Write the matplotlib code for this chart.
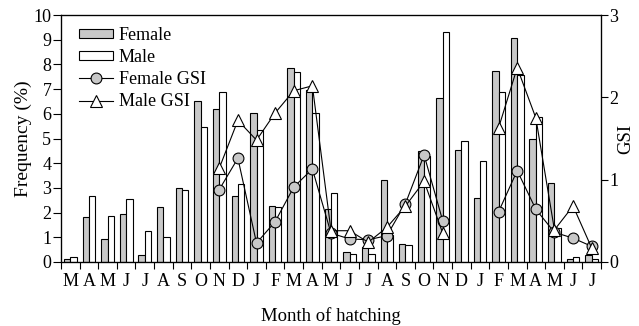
import numpy as np
import matplotlib
matplotlib.use("Agg")
import matplotlib.pyplot as plt

plt.rcParams['font.family'] = ['Liberation Serif', 'DejaVu Serif']

months = ['M', 'A', 'M', 'J', 'J', 'A', 'S', 'O', 'N', 'D', 'J', 'F', 'M', 'A', 'M',
          'J', 'J', 'A', 'S', 'O', 'N', 'D', 'J', 'F', 'M', 'A', 'M', 'J', 'J']

# частоты (%)
female = [0.12, 1.84, 0.92, 1.95, 0.28, 2.24, 2.99, 6.5, 6.2, 2.69, 6.05, 2.27, 7.85, 6.97, 2.14,
          0.42, 0.6, 3.3, 0.73, 4.5, 6.63, 4.54, 2.58, 7.72, 9.07, 4.97, 3.19, 0.11, 0.28]
male = [0.19, 2.69, 1.86, 2.55, 1.27, 1.03, 2.92, 5.48, 6.9, 3.15, 5.34, 2.22, 7.71, 6.03, 2.78,
        0.32, 0.32, 1.1, 0.67, 4.3, 9.33, 4.88, 4.1, 6.9, 7.58, 5.89, 1.37, 0.19, 0.12]

nan = np.nan
female_gsi = [nan] * 8 + [0.88, 1.26, 0.23, 0.49, 0.91, 1.13, 0.35, 0.28, 0.27, 0.32, 0.71, 1.30, 0.50,
                          nan, nan, 0.61, 1.11, 0.64, 0.36, 0.29, 0.19]
male_gsi = [nan] * 8 + [1.14, 1.72, 1.48, 1.81, 2.08, 2.14, 0.38, 0.38, 0.24, 0.42, 0.68, 0.98, 0.35,
                        nan, nan, 1.63, 2.36, 1.75, 0.39, 0.68, 0.17]

x = np.arange(len(months))
w = 0.34
fs = 13

fig = plt.figure(figsize=(6.39, 3.26), dpi=100)
ax = fig.add_axes([61 / 639, 1 - 262 / 326, 540 / 639, 247 / 326])

b1 = ax.bar(x - w / 2, female, w, color='#c8c8c8', edgecolor='black', linewidth=0.8, label='Female')
b2 = ax.bar(x + w / 2, male, w, color='white', edgecolor='black', linewidth=0.8, label='Male')

ax.set_xlim(-0.5, len(months) - 0.5)
ax.set_ylim(0, 10)
ax.set_yticks(range(0, 11))
ax.set_xticks(x)
ax.set_xticklabels(months)
ax.set_xticks(np.arange(-0.5, len(months)), minor=True)
ax.tick_params(axis='x', which='major', length=0, labelsize=fs, pad=8)
ax.tick_params(axis='x', which='minor', length=5, direction='out', width=0.8)
ax.tick_params(axis='y', length=6, direction='out', labelsize=fs, width=0.8, pad=1)
ax.set_xlabel('Month of hatching', fontsize=fs + 0.5, labelpad=12)
ax.set_ylabel('Frequency (%)', fontsize=fs + 1, labelpad=1)
for s in ax.spines.values():
    s.set_linewidth(0.9)

ax2 = ax.twinx()
l1, = ax2.plot(x, female_gsi, color='black', linewidth=0.8, marker='o', markersize=7.8,
               markerfacecolor='#c8c8c8', markeredgecolor='black', markeredgewidth=0.8, label='Female GSI')
l2, = ax2.plot(x, male_gsi, color='black', linewidth=0.8, marker='^', markersize=8.5,
               markerfacecolor='white', markeredgecolor='black', markeredgewidth=0.8, label='Male GSI')
ax2.set_ylim(0, 3)
ax2.set_yticks([0, 1, 2, 3])
ax2.tick_params(axis='y', length=5, direction='out', labelsize=fs, width=0.8, pad=1)
ax2.set_ylabel('GSI', fontsize=fs + 0.5)
ax2.yaxis.set_label_coords((617 - 61) / 540, 0.5)

ax.legend([b1, b2, l1, l2], ['Female', 'Male', 'Female GSI', 'Male GSI'], loc='upper left',
          frameon=False, fontsize=fs, handlelength=1.9, handleheight=0.45, labelspacing=0.28,
          handletextpad=0.3, borderpad=0, borderaxespad=0, bbox_to_anchor=(18 / 540, 1 - 12 / 247))

fig.savefig('out.png', dpi=100)
